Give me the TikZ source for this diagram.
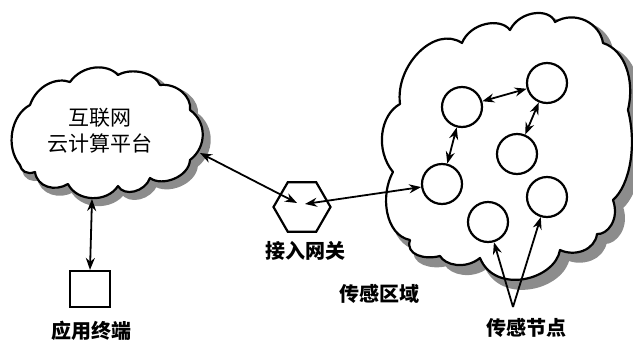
\documentclass[tikz,border=0pt]{standalone}
\usepackage{fontspec}
\setmainfont{Noto Sans CJK SC}
\usetikzlibrary{shapes.geometric,arrows.meta,calc}
\tikzset{
  every node/.style={inner sep=0pt},
  cloudline/.style={draw=black, line width=2.2pt, fill=white, line join=round},
  cloudshadow/.style={draw=black!45, fill=black!45, line width=6pt, line join=round},
  sensor/.style={circle, draw, line width=2.2pt, minimum size=40pt, inner sep=0pt},
  link/.style={line width=1.8pt, {Stealth[length=12pt,width=9pt]}-{Stealth[length=12pt,width=9pt]}},
  ptr/.style={line width=1.8pt, -{Stealth[length=12pt,width=9pt]}},
  lbl/.style={font=\fontsize{20}{24}\selectfont\bfseries},
  txt/.style={font=\fontsize{21}{26}\selectfont, align=center}
}
\begin{document}
\begin{tikzpicture}[x=1pt,y=-1pt]
\useasboundingbox (0,0) rectangle (633,341);
% left cloud shadow and outline
\begin{scope}[xshift=2pt,yshift=-2pt]
\path[cloudshadow] (23,168) .. controls (8,150) and (14,118) .. (33,108)
  .. controls (40,88) and (60,80) .. (73,85)
  .. controls (85,68) and (110,66) .. (121,78)
  .. controls (135,70) and (158,76) .. (163,88)
  .. controls (180,86) and (195,100) .. (193,113)
  .. controls (210,125) and (210,150) .. (193,163)
  .. controls (192,180) and (165,190) .. (153,181)
  .. controls (148,195) and (127,200) .. (121,189)
  .. controls (110,206) and (80,205) .. (71,187)
  .. controls (58,195) and (40,190) .. (38,175)
  .. controls (30,178) and (24,174) .. (23,168) -- cycle;
\end{scope}
\path[cloudline] (20,165) .. controls (5,147) and (11,115) .. (30,105)
  .. controls (37,85) and (57,77) .. (70,82)
  .. controls (82,65) and (107,63) .. (118,75)
  .. controls (132,67) and (155,73) .. (160,85)
  .. controls (177,83) and (192,97) .. (190,110)
  .. controls (207,122) and (207,147) .. (190,160)
  .. controls (189,177) and (162,187) .. (150,178)
  .. controls (145,192) and (124,197) .. (118,186)
  .. controls (107,203) and (77,202) .. (68,184)
  .. controls (55,192) and (37,187) .. (35,172)
  .. controls (27,175) and (21,171) .. (20,165) -- cycle;
\node[txt] (cloudtext) at (100,131) {互联网\\云计算平台};
\coordinate (cloudS) at (92,199);
\coordinate (cloudE) at (200,153);
% right cloud shadow and outline
\begin{scope}[xshift=2pt,yshift=-2pt]
\path[cloudshadow] (398,177) .. controls (380,155) and (385,120) .. (405,109)
  .. controls (400,70) and (440,30) .. (467,48)
  .. controls (475,28) and (505,22) .. (515,35)
  .. controls (525,15) and (555,13) .. (560,27)
  .. controls (580,15) and (605,28) .. (608,48)
  .. controls (630,55) and (640,85) .. (633,115)
  .. controls (642,150) and (635,190) .. (618,205)
  .. controls (625,225) and (612,240) .. (602,239)
  .. controls (600,255) and (580,262) .. (565,255)
  .. controls (560,285) and (500,300) .. (485,263)
  .. controls (470,275) and (450,270) .. (445,261)
  .. controls (430,265) and (410,260) .. (415,245)
  .. controls (390,240) and (385,200) .. (398,177) -- cycle;
\end{scope}
\path[cloudline] (393,172) .. controls (375,150) and (380,115) .. (400,104)
  .. controls (395,65) and (435,25) .. (462,43)
  .. controls (470,23) and (500,17) .. (510,30)
  .. controls (520,10) and (550,8) .. (555,22)
  .. controls (575,10) and (600,23) .. (603,43)
  .. controls (625,50) and (635,80) .. (628,110)
  .. controls (637,145) and (630,185) .. (613,200)
  .. controls (620,220) and (607,235) .. (597,234)
  .. controls (595,250) and (575,257) .. (560,250)
  .. controls (555,280) and (495,295) .. (480,258)
  .. controls (465,270) and (445,265) .. (440,256)
  .. controls (425,260) and (405,255) .. (410,240)
  .. controls (385,235) and (380,195) .. (393,172) -- cycle;
% terminal
\node[draw, line width=2.2pt, minimum width=40pt, minimum height=36pt] (term) at (90,289) {};
\node[lbl] (termlbl) at (92,331) {应用终端};
% gateway
\node[draw, line width=2.2pt, regular polygon, regular polygon sides=6, minimum size=57pt] (gw) at (302,207) {};
\node[lbl] (gwlbl) at (305,251) {接入网关};
\coordinate (gwL) at (297,203);
\coordinate (gwR) at (305,204);
% sensor nodes
\node[sensor] (n1) at (462,107) {};
\node[sensor] (n2) at (547,83) {};
\node[sensor] (n3) at (517,154) {};
\node[sensor] (n4) at (442,184) {};
\node[sensor] (n5) at (547,197) {};
\node[sensor] (n6) at (488,222) {};
\node[lbl] (arealbl) at (379,294) {传感区域};
\node[lbl] (nodelbl) at (526,328) {传感节点};
\coordinate (apex) at (513,307);
% connectors
\draw[link] (cloudS) -- (term.north);
\draw[link] (cloudE) -- (gwL);
\draw[link] (gwR) -- (n4);
\draw[link] (n1) -- (n2);
\draw[link] (n2) -- (n3);
\draw[link] (n1) -- (n4);
\draw[ptr] (apex) -- (n6);
\draw[ptr] (apex) -- (n5);
\end{tikzpicture}
\end{document}
